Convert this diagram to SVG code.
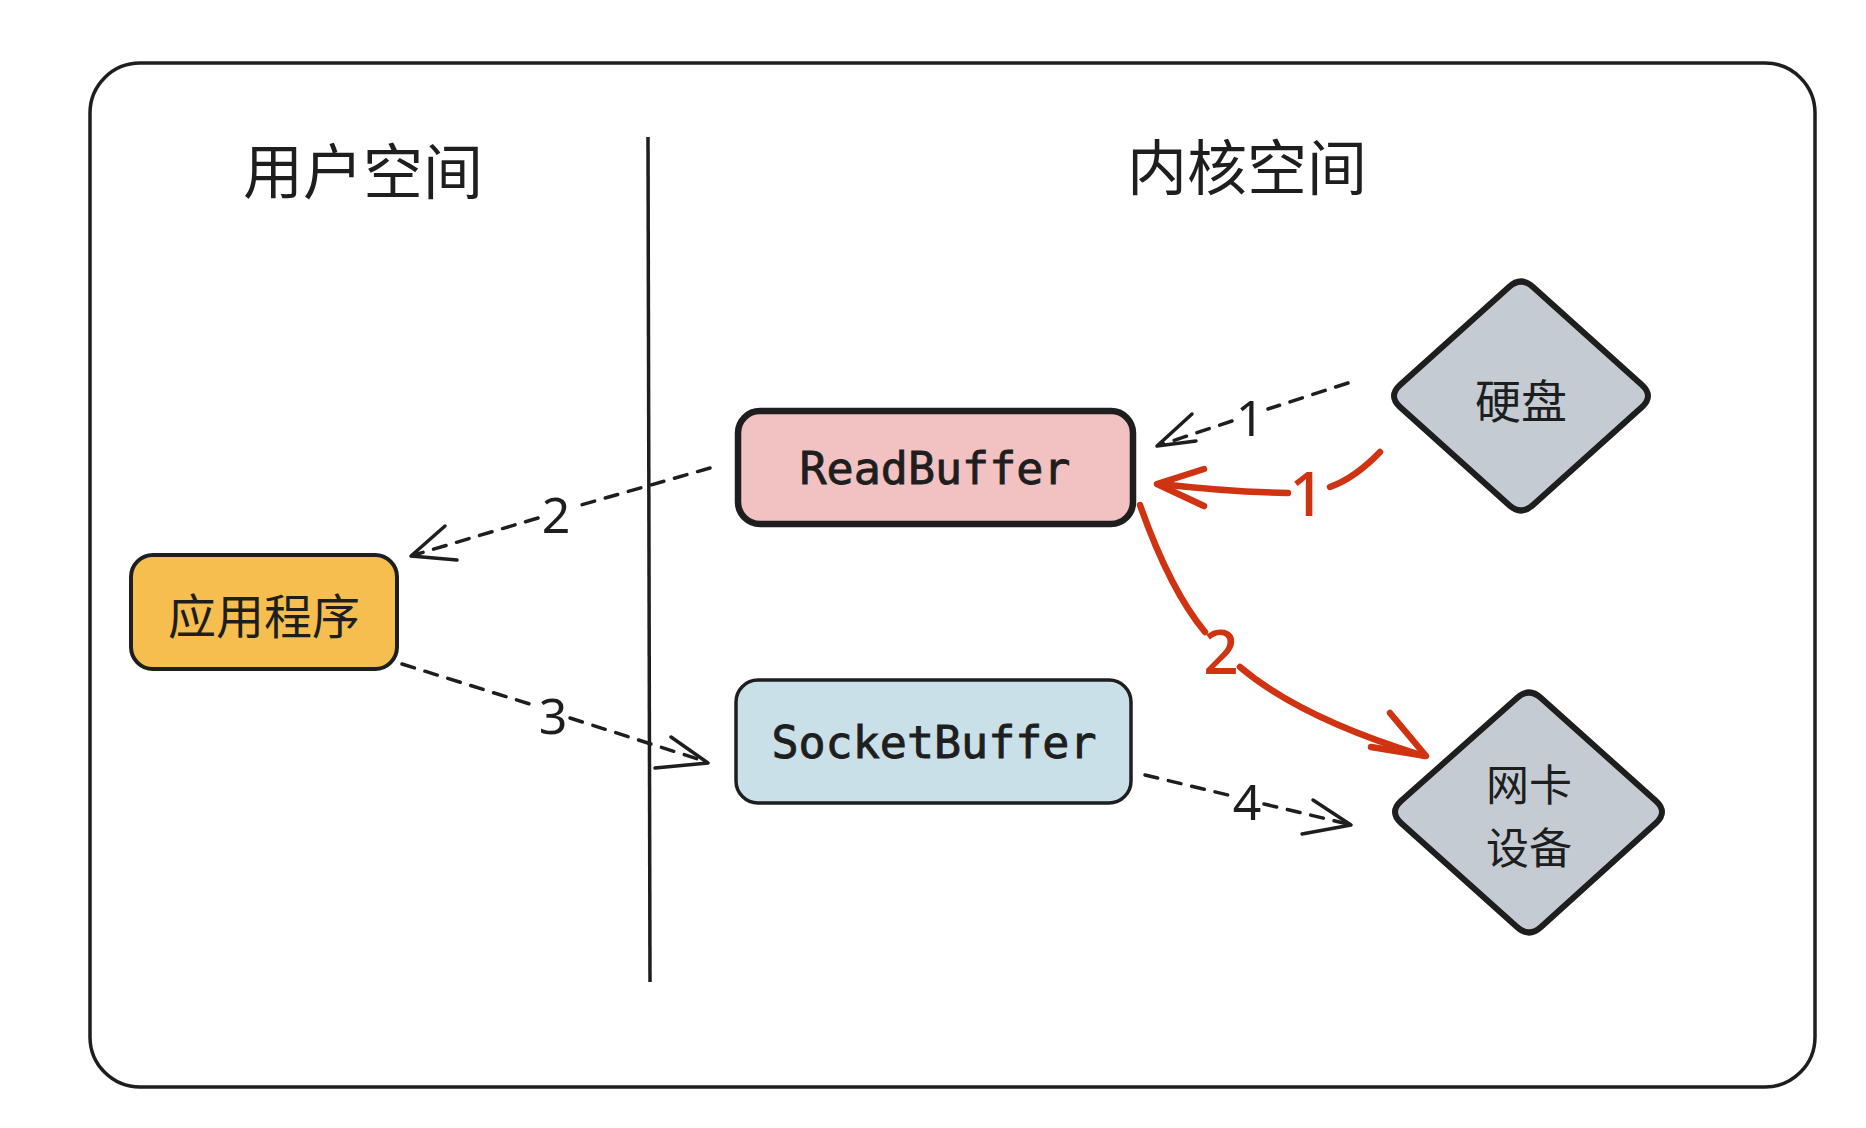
<svg xmlns="http://www.w3.org/2000/svg" width="1866" height="1128" viewBox="0 0 1866 1128">
<style>
.cjk{font-family:"Noto Sans CJK SC","Noto Sans",sans-serif;fill:#1e1e1e;text-anchor:middle;dominant-baseline:central}
.mono{font-family:"DejaVu Sans Mono","Liberation Mono",monospace;fill:#1e1e1e;stroke:#1e1e1e;stroke-width:0.9;text-anchor:middle;dominant-baseline:central;font-size:45px}
.num{font-family:"Noto Sans","DejaVu Sans",sans-serif;fill:#1e1e1e;text-anchor:middle;dominant-baseline:central;font-size:50px}
.rnum{font-family:"Noto Sans","DejaVu Sans",sans-serif;fill:#cf3311;text-anchor:middle;dominant-baseline:central;font-size:62px;font-weight:500}
.dash{fill:none;stroke:#1e1e1e;stroke-width:3.5;stroke-dasharray:13 11;stroke-linecap:round}
.head{fill:none;stroke:#1e1e1e;stroke-width:3.5;stroke-linecap:round;stroke-linejoin:round}
.red{fill:none;stroke:#cf3311;stroke-width:6.5;stroke-linecap:round;stroke-linejoin:round}
</style>
<rect width="1866" height="1128" fill="#ffffff"/>
<g id="frame">
<rect x="90" y="63" width="1725" height="1024" rx="50" ry="50" fill="none" stroke="#1e1e1e" stroke-width="3.5"/>
<line x1="648" y1="137" x2="650" y2="982" stroke="#1e1e1e" stroke-width="3.5"/>
<text class="cjk" x="363" y="167" font-size="60">用户空间</text>
<text class="cjk" x="1247" y="163" font-size="60">内核空间</text>
</g>
<g id="node-readbuffer">
<rect x="738" y="411" width="395" height="113" rx="22" fill="#f2c2c2" stroke="#1e1e1e" stroke-width="6.5"/>
<text class="mono" x="935" y="468">ReadBuffer</text>
</g>
<g id="node-socketbuffer">
<rect x="736" y="680" width="395" height="123" rx="22" fill="#c9e0e8" stroke="#1e1e1e" stroke-width="3.5"/>
<text class="mono" x="934" y="742">SocketBuffer</text>
</g>
<g id="node-app">
<rect x="131" y="555" width="266" height="114" rx="22" fill="#f5be4e" stroke="#1e1e1e" stroke-width="4"/>
<text class="cjk" x="264" y="613" font-size="48">应用程序</text>
</g>
<g id="node-disk">
<path d="M 1509 287 Q 1521 276 1533 287 L 1642 385 Q 1654 396 1642 407 L 1533 505 Q 1521 516 1509 505 L 1400 407 Q 1388 396 1400 385 Z" fill="#c5cbd3" stroke="#1e1e1e" stroke-width="6"/>
<text class="cjk" x="1521" y="398" font-size="46">硬盘</text>
</g>
<g id="node-nic">
<path d="M 1517 698 Q 1529 687 1541 698 L 1656 801 Q 1668 812 1656 823 L 1541 927 Q 1529 938 1517 927 L 1401 823 Q 1389 812 1401 801 Z" fill="#c5cbd3" stroke="#1e1e1e" stroke-width="6"/>
<text class="cjk" font-size="43"><tspan x="1529" y="782">网卡</tspan><tspan x="1529" y="845">设备</tspan></text>
</g>
<g id="connectors">
<path class="dash" d="M 1348 383 L 1268 409"/>
<path class="dash" d="M 1232 421 L 1160 445"/>
<path class="head" d="M 1192 414 L 1157 446 L 1196 441"/>
<text class="num" x="1250" y="417">1</text>
<path class="dash" d="M 710 468 L 574 507"/>
<path class="dash" d="M 538 518 L 414 555"/>
<path class="head" d="M 445 526 L 411 556 L 457 560"/>
<text class="num" x="556" y="514">2</text>
<path class="dash" d="M 402 664 L 536 706"/>
<path class="dash" d="M 570 718 L 704 761"/>
<path class="head" d="M 671 737 L 708 763 L 655 768"/>
<text class="num" x="553" y="715">3</text>
<path class="dash" d="M 1145 775 L 1228 795"/>
<path class="dash" d="M 1264 804 L 1348 824"/>
<path class="head" d="M 1313 800 L 1351 825 L 1302 834"/>
<text class="num" x="1247" y="801">4</text>
<path class="red" d="M 1380 452 Q 1355 478 1330 487"/>
<path class="red" d="M 1288 493 Q 1230 492 1160 484"/>
<path class="red" d="M 1204 469 L 1157 484 L 1204 506"/>
<text class="rnum" x="1307" y="492">1</text>
<path class="red" d="M 1140 505 Q 1170 590 1205 632"/>
<path class="red" d="M 1240 667 Q 1300 718 1424 756"/>
<path class="red" d="M 1390 713 L 1426 756 L 1371 747"/>
<text class="rnum" x="1221" y="650">2</text>
</g>
</svg>
